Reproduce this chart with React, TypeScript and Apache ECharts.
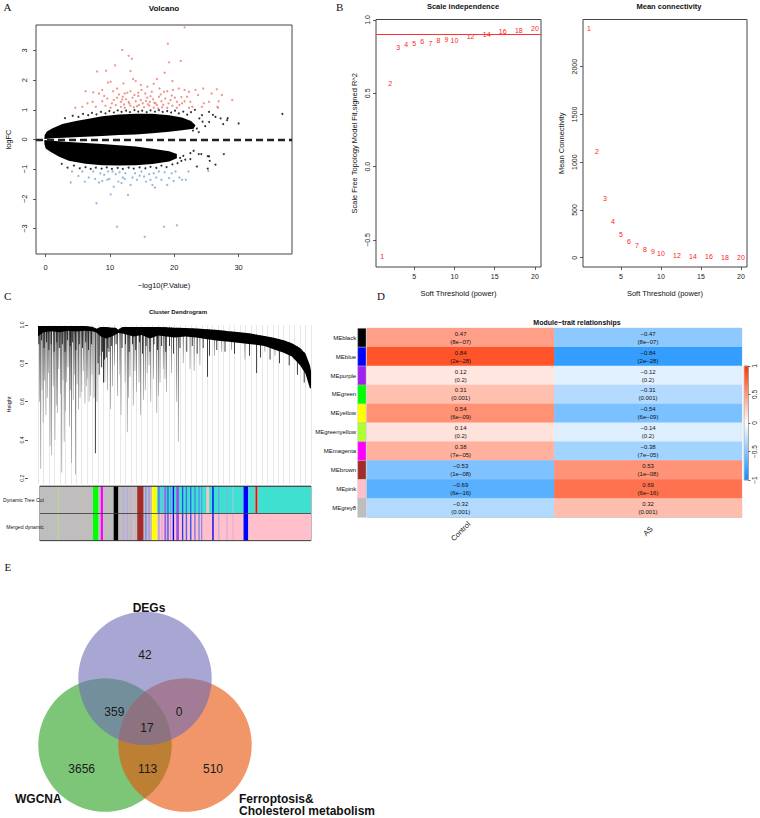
import React, { useEffect, useRef } from 'react';
import * as echarts from 'echarts';

const SANS = '"Liberation Sans", Arial, Helvetica, sans-serif';
const SERIF = '"Liberation Serif", "Times New Roman", serif';
const MINUS = '\u2212';
const signed = (s: string) => s.replace(/-/g, MINUS);

// ---------- A: volcano (x = -log10 P, y = logFC) ----------
const volcanoXTicks = [0, 10, 20, 30];
const volcanoYTicks = [-3, -2, -1, 0, 1, 2, 3];

// outline of the dense block of non-significant genes, logFC > 0 and logFC < 0
const upperCloud: [number, number][] = [
  [-0.2, 0.02], [-0.15, 0.15], [0.2, 0.27], [1.0, 0.37], [2.6, 0.52], [4.7, 0.62], [6.7, 0.7],
  [8.8, 0.78], [11.4, 0.84], [14.0, 0.87], [16.6, 0.87], [19.2, 0.82], [21.2, 0.74], [22.6, 0.62],
  [23.3, 0.48], [23.0, 0.36], [21.2, 0.31], [19.2, 0.26], [16.6, 0.21], [14.0, 0.17], [11.4, 0.15],
  [8.8, 0.12], [6.2, 0.09], [3.6, 0.07], [1.0, 0.04],
];
const lowerCloud: [number, number][] = [
  [-0.2, -0.02], [1.0, -0.04], [3.6, -0.085], [8.8, -0.15], [14.0, -0.24], [16.6, -0.31], [19.2, -0.4],
  [20.4, -0.49], [20.4, -0.63], [19.2, -0.74], [16.6, -0.83], [14.0, -0.87], [11.4, -0.88], [8.8, -0.87],
  [6.2, -0.82], [3.6, -0.72], [2.1, -0.58], [0.8, -0.42], [0.0, -0.3], [-0.2, -0.14],
];
// scattered non-significant genes around the dense block
const volcanoOther: [number, number][] = [
  [3.0, 0.72], [4.2, 0.8], [5.1, 0.76], [5.8, 0.86], [6.6, 0.82], [7.2, 0.9], [7.9, 0.85], [8.6, 0.93],
  [9.3, 0.88], [9.9, 0.96], [10.6, 0.91], [11.2, 0.98], [11.8, 0.93], [12.5, 0.97], [13.1, 0.92], [13.8, 0.99],
  [14.4, 0.94], [15.0, 0.97], [15.7, 0.92], [16.3, 0.98], [17.0, 0.94], [17.6, 0.99], [18.2, 0.93], [18.9, 0.96],
  [19.5, 0.91], [20.1, 0.97], [20.7, 0.88], [21.4, 0.94], [22.0, 0.84], [22.6, 0.92], [23.2, 1.0], [23.5, 0.37],
  [24.3, 0.82], [24.4, 0.6], [25.4, 0.93], [25.4, 0.59], [26.0, 0.83], [26.4, 0.76], [27.2, 0.71], [27.6, 0.52],
  [28.2, 0.65], [28.3, 0.72], [30.0, 0.54], [36.8, 0.86], [23.9, 0.71], [24.8, 0.45], [22.9, 0.3], [23.8, 0.25],
  [2.5, -0.82], [3.4, -0.95], [4.4, -0.88], [5.3, -0.97], [6.2, -0.93], [7.0, -0.99], [7.8, -0.95], [8.7, -0.98],
  [9.5, -0.94], [10.3, -0.99], [11.2, -0.96], [12.0, -0.99], [12.9, -0.95], [13.7, -0.98], [14.6, -0.94],
  [15.5, -0.97], [16.3, -0.92], [17.2, -0.96], [18.0, -0.88], [18.8, -0.93], [19.7, -0.84], [20.5, -0.8],
  [21.1, -0.72], [21.7, -0.68], [22.5, -0.46], [22.5, -0.66], [23.0, -0.38], [23.5, -0.91], [23.8, -0.49],
  [24.2, -0.49], [25.2, -0.56], [25.2, -0.98], [25.4, -0.57], [25.5, -0.72], [26.4, -0.85], [27.7, -0.49],
  [21.4, -0.55], [20.9, -0.62],
];
const volcanoUp: [number, number][] = [
  [21.6, 3.78], [19.0, 3.23], [11.9, 3.02], [12.9, 2.82], [13.4, 2.72], [10.8, 2.5], [19.2, 2.6], [21.0, 2.65],
  [8.0, 2.29], [9.4, 2.32], [13.2, 2.31], [18.5, 2.25], [17.3, 2.04], [13.6, 2.04], [14.0, 1.97], [16.8, 1.88],
  [9.7, 1.92], [10.1, 1.95], [12.1, 1.89], [14.8, 1.84], [15.8, 1.78], [19.7, 1.97], [6.2, 1.63], [7.4, 1.59],
  [8.3, 1.55], [8.8, 1.67], [10.5, 1.63], [11.1, 1.72], [12.3, 1.55], [13.2, 1.63], [14.9, 1.67], [15.5, 1.55],
  [16.5, 1.61], [17.7, 1.72], [18.4, 1.61], [18.9, 1.63], [19.8, 1.67], [20.7, 1.72], [21.6, 1.67], [22.3, 1.61],
  [23.3, 1.67], [24.5, 1.72], [25.8, 1.55], [26.6, 1.69], [27.4, 1.5], [29.0, 1.33], [26.9, 1.29], [22.0, 1.44],
  [25.4, 1.27], [22.5, 1.27], [21.2, 1.22], [24.3, 1.1], [22.8, 1.1], [6.5, 1.22], [7.3, 1.27], [8.8, 1.29],
  [9.1, 1.47], [9.6, 1.38], [10.6, 1.33], [11.1, 1.41], [11.7, 1.27], [12.0, 1.44], [12.5, 1.36], [12.9, 1.27],
  [13.5, 1.41], [14.0, 1.29], [14.4, 1.47], [14.8, 1.33], [15.1, 1.22], [15.8, 1.41], [16.2, 1.27], [16.7, 1.36],
  [17.1, 1.22], [17.6, 1.44], [18.0, 1.29], [18.6, 1.38], [19.1, 1.22], [19.4, 1.33], [20.1, 1.41], [20.4, 1.27],
  [20.8, 1.16], [21.6, 1.29], [4.6, 1.07], [5.7, 1.1], [7.8, 1.1], [9.3, 1.14], [10.1, 1.07], [10.9, 1.16],
  [11.7, 1.1], [12.3, 1.07], [13.2, 1.14], [13.7, 1.09], [14.5, 1.16], [15.3, 1.09], [16.1, 1.14], [16.8, 1.07],
  [17.3, 1.16], [18.1, 1.09], [18.9, 1.07], [19.7, 1.14], [20.4, 1.07], [26.7, 1.1], [24.6, 1.22], [23.7, 1.5],
  [22.3, 1.07], [13.0, 1.21], [14.2, 1.12], [15.6, 1.3], [16.3, 1.46], [17.9, 1.52], [12.7, 1.58], [11.4, 1.52],
  [14.4, 1.58], [19.6, 1.48], [18.3, 1.17], [15.9, 1.19], [10.3, 1.22], [21.1, 1.43], [12.2, 1.18], [16.9, 1.24],
  [13.8, 1.5], [17.5, 1.05], [11.9, 1.35], [26.8, 1.07],
];
const volcanoDown: [number, number][] = [
  [3.9, -1.45], [4.1, -1.08], [5.1, -1.23], [5.7, -1.08], [6.1, -1.42], [6.7, -1.28], [7.4, -1.08], [7.7, -1.33],
  [7.9, -2.15], [8.3, -1.45], [8.5, -1.14], [9.1, -1.19], [9.6, -1.36], [9.7, -1.08], [10.1, -1.85], [10.4, -1.08],
  [10.6, -1.59], [10.9, -1.17], [11.1, -2.94], [11.3, -1.42], [11.5, -1.1], [11.8, -1.47], [12.0, -1.28],
  [12.4, -1.14], [12.8, -1.87], [13.2, -1.53], [13.5, -1.28], [13.9, -1.14], [14.2, -1.36], [14.6, -1.22],
  [14.9, -1.08], [15.3, -1.25], [15.4, -3.28], [15.6, -1.42], [16.1, -1.17], [16.3, -1.36], [16.6, -1.53],
  [16.8, -1.14], [17.0, -1.62], [17.2, -1.28], [17.6, -1.08], [18.0, -1.36], [18.4, -2.94], [18.5, -1.1],
  [18.9, -1.53], [19.2, -1.3], [19.6, -1.14], [19.9, -1.4], [20.2, -1.08], [20.4, -2.89], [20.8, -1.28],
  [21.2, -1.36], [21.8, -1.36], [22.2, -1.08], [25.3, -1.06], [8.8, -1.4], [12.3, -1.33], [9.9, -1.33],
];

// ---------- B: soft-threshold selection ----------
const powers = [1, 2, 3, 4, 5, 6, 7, 8, 9, 10, 12, 14, 16, 18, 20];
const scaleFreeR2 = [-0.61, 0.57, 0.81, 0.83, 0.84, 0.85, 0.84, 0.86, 0.87, 0.86, 0.89, 0.9, 0.92, 0.93, 0.94];
const meanConnectivity = [2398, 1117, 622, 381, 248, 172, 126, 91, 63, 46, 25, 15, 8, 4, 2];
const r2Cutoff = 0.9;
const powerTicks = [5, 10, 15, 20];
const r2Ticks = [-0.5, 0, 0.5, 1];
const kTicks = [0, 500, 1000, 1500, 2000];

// ---------- C: gene dendrogram (leaf order 0-100) ----------
const heightTicks = [0.2, 0.4, 0.6, 0.8, 1.0];
// merged top of the tree: [leaf position, upper height, lower height]
const dendroBand: [number, number, number][] = [
  [0, 0.995, 0.94], [2, 0.995, 0.962], [5, 0.995, 0.968], [8, 0.995, 0.962], [11, 0.995, 0.97],
  [14, 0.995, 0.966], [17, 0.995, 0.97], [20, 0.99, 0.968], [21.5, 0.98, 0.96], [23, 0.99, 0.94],
  [25, 0.99, 0.93], [27, 0.985, 0.94], [28.5, 0.985, 0.95], [29.3, 0.975, 0.958], [31, 0.99, 0.955],
  [35, 0.99, 0.94], [38, 0.99, 0.948], [41, 0.99, 0.93], [44, 0.99, 0.945], [47, 0.988, 0.94],
  [50, 0.986, 0.935], [54, 0.984, 0.94], [58, 0.982, 0.935], [62, 0.978, 0.925], [66, 0.974, 0.918],
  [70, 0.968, 0.912], [74, 0.962, 0.906], [78, 0.955, 0.9], [83, 0.943, 0.89], [86, 0.935, 0.875],
  [90, 0.92, 0.855], [93, 0.905, 0.835], [96, 0.88, 0.79], [98, 0.85, 0.745], [99.6, 0.79, 0.67], [100, 0.76, 0.67],
];
// branches hanging below the merged top: [leaf position, lowest height, 0 = dark / 1 = grey]
const dendroBranches: [number, number, number][] = [
  [1.0, 0.25, 1], [1.9, 0.49, 1], [2.9, 0.53, 1], [4.4, 0.37, 1], [5.0, 0.32, 1], [6.2, 0.4, 1], [7.1, 0.54, 1],
  [8.7, 0.23, 1], [9.6, 0.39, 1], [10.5, 0.7, 1], [11.5, 0.47, 1], [12.3, 0.28, 1], [12.9, 0.61, 1], [13.7, 0.22, 1],
  [14.8, 0.56, 1], [16.0, 0.65, 1], [17.2, 0.59, 1], [18.2, 0.72, 1], [19.3, 0.63, 1], [20.5, 0.62, 1],
  [21.0, 0.33, 0], [21.6, 0.6, 1], [22.7, 0.84, 1], [23.9, 0.77, 1], [25.4, 0.66, 1], [26.6, 0.56, 1],
  [28.0, 0.79, 1], [29.1, 0.63, 1], [30.4, 0.53, 1], [31.9, 0.7, 1], [32.7, 0.44, 1], [33.7, 0.73, 1],
  [34.9, 0.58, 1], [36.1, 0.65, 1], [37.6, 0.53, 1], [38.6, 0.61, 1], [40.0, 0.75, 1], [41.3, 0.6, 1],
  [42.3, 0.72, 1], [43.5, 0.54, 1], [44.7, 0.7, 1], [45.9, 0.77, 1], [47.1, 0.65, 1], [48.9, 0.75, 1],
  [50.8, 0.6, 1], [51.4, 0.39, 1], [53.2, 0.8, 1], [55.7, 0.77, 1], [57.2, 0.76, 1], [59.3, 0.79, 1],
  [62.1, 0.73, 0], [64.6, 0.84, 1], [67.3, 0.86, 1], [70.9, 0.87, 1], [75.8, 0.82, 1], [80.1, 0.75, 0],
  [83.1, 0.86, 1], [86.8, 0.84, 1], [90.5, 0.87, 1], [93.5, 0.82, 1], [96.6, 0.79, 1],
  [0.5, 0.6, 1], [1.5, 0.66, 1], [2.4, 0.71, 1], [3.4, 0.62, 1], [3.9, 0.75, 1], [5.6, 0.68, 1], [6.7, 0.58, 1],
  [7.6, 0.77, 1], [8.2, 0.64, 1], [9.2, 0.71, 1], [10.0, 0.55, 1], [11.0, 0.78, 1], [11.9, 0.66, 1],
  [13.3, 0.74, 1], [14.3, 0.69, 1], [15.4, 0.62, 1], [16.6, 0.76, 1], [17.7, 0.68, 1], [18.7, 0.6, 1],
  [19.8, 0.74, 1], [24.5, 0.7, 1], [27.3, 0.68, 1], [30.0, 0.74, 1], [33.1, 0.62, 1], [35.5, 0.76, 1],
  [37.0, 0.7, 1], [39.3, 0.66, 1], [40.7, 0.79, 1], [44.1, 0.63, 1], [46.5, 0.72, 1],
  [0.3, 0.9, 0], [1.3, 0.92, 0], [2.2, 0.88, 0], [3.1, 0.91, 0], [4.0, 0.87, 0], [4.8, 0.9, 0], [5.9, 0.86, 0],
  [6.9, 0.91, 0], [7.8, 0.88, 0], [8.9, 0.9, 0], [9.9, 0.86, 0], [10.8, 0.92, 0], [11.8, 0.89, 0], [12.7, 0.91, 0],
  [13.9, 0.87, 0], [15.1, 0.9, 0], [16.3, 0.88, 0], [17.5, 0.91, 0], [18.5, 0.87, 0], [19.6, 0.9, 0],
  [22.0, 0.8, 0], [22.4, 0.74, 0], [23.2, 0.78, 0], [24.0, 0.7, 0], [25.0, 0.83, 0], [26.0, 0.86, 0],
  [23.6, 0.86, 0], [24.4, 0.82, 0], [25.6, 0.88, 0],
  [27.0, 0.89, 0], [28.6, 0.9, 0], [30.8, 0.88, 0], [32.0, 0.9, 0], [33.4, 0.86, 0], [34.6, 0.9, 0],
  [35.8, 0.87, 0], [37.2, 0.91, 0], [38.3, 0.85, 0], [39.6, 0.89, 0], [41.0, 0.86, 0], [42.5, 0.9, 0],
  [43.8, 0.87, 0], [45.3, 0.89, 0], [46.8, 0.86, 0], [48.2, 0.89, 0], [49.6, 0.85, 0], [52.0, 0.88, 0],
  [54.5, 0.86, 0], [56.5, 0.89, 0], [58.3, 0.85, 0], [60.5, 0.88, 0], [62.8, 0.84, 0], [65.5, 0.87, 0],
  [68.5, 0.86, 0], [72.0, 0.85, 0], [77.5, 0.84, 0], [81.5, 0.83, 0], [85.0, 0.82, 0], [88.5, 0.8, 0],
  [92.0, 0.79, 0], [95.0, 0.74, 0], [97.5, 0.7, 0],
];
const colourRows = ['Merged dynamic', 'Dynamic Tree Cut'];
const R_COL: Record<string, string> = {
  grey: '#BEBEBE', green: '#00FF00', magenta: '#FF00FF', black: '#000000', brown: '#A52A2A',
  yellow: '#FFFF00', turquoise: '#40E0D0', blue: '#0000FF', red: '#FF0000', pink: '#FFC0CB',
  purple: '#A020F0', greenyellow: '#ADFF2F',
};
const dynamicTreeCut: [number, number, string][] = [
  [0, 19.6, 'grey'], [19.6, 21.7, 'green'], [21.7, 22.4, 'grey'], [22.4, 23.3, 'magenta'], [23.3, 27.2, 'grey'],
  [27.2, 29.0, 'black'], [29.0, 35.9, 'grey'], [35.9, 38.3, 'brown'], [38.3, 41.4, 'grey'], [41.4, 43.2, 'yellow'],
  [43.2, 75.1, 'turquoise'], [75.1, 76.9, 'blue'], [76.9, 79.5, 'turquoise'], [79.5, 80.3, 'red'], [80.3, 100, 'turquoise'],
  [6.6, 7.0, '#B8DC8C'], [9.6, 10.0, '#CDB8B8'], [12.2, 12.6, '#CDB8B8'], [14.8, 15.2, '#C8BEB0'], [17.0, 17.4, '#CDB8B8'],
  [30.6, 31.2, '#A9B4E6'], [32.0, 32.5, '#B8A8E0'], [33.4, 33.8, '#C7B0D8'], [34.4, 34.8, '#D8B8C8'],
  [38.8, 39.4, '#7FA0F0'], [40.0, 40.6, '#B090E0'], [43.6, 44.2, '#5080F0'], [44.8, 45.3, '#7FB0F0'],
  [45.9, 46.6, '#9A60E8'], [47.0, 47.5, '#3060F0'], [48.0, 48.4, '#70A0F0'], [49.0, 49.5, 'blue'],
  [50.3, 51.3, '#9B50E8'], [52.4, 52.9, '#2050F0'], [53.8, 54.3, '#4070F0'], [55.4, 55.9, '#3060F0'],
  [57.0, 57.4, '#4070F0'], [58.5, 58.9, '#5080F0'], [59.5, 59.9, '#6090F0'], [61.4, 62.4, 'pink'],
  [63.6, 64.1, 'blue'], [65.8, 66.2, '#6AA0F0'], [68.8, 69.2, '#80B0F0'], [71.0, 71.4, '#9AC8F0'],
];
const mergedDynamic: [number, number, string][] = [
  [0, 19.6, 'grey'], [19.6, 21.7, 'green'], [21.7, 22.4, 'grey'], [22.4, 23.3, 'magenta'], [23.3, 27.2, 'grey'],
  [27.2, 29.0, 'black'], [29.0, 35.9, 'grey'], [35.9, 38.3, 'brown'], [38.3, 41.4, 'grey'], [41.4, 43.2, 'yellow'],
  [43.2, 75.1, 'pink'], [75.1, 76.9, 'blue'], [76.9, 100, 'pink'],
  [6.6, 7.0, '#B8DC8C'], [9.6, 10.0, '#CDB8B8'], [12.2, 12.6, '#CDB8B8'], [14.8, 15.2, '#C8BEB0'], [17.0, 17.4, '#CDB8B8'],
  [30.6, 31.2, '#C0A8D8'], [32.0, 32.5, '#B8A8E0'], [33.4, 33.8, '#D0A8D0'], [34.4, 34.8, '#E0B8C8'],
  [38.8, 39.4, '#8090F0'], [40.0, 40.6, '#C090E0'], [43.6, 44.2, '#B0A0E8'], [44.8, 45.3, '#D8A8E0'],
  [45.9, 46.6, '#9A60E8'], [47.0, 47.5, '#4050F0'], [48.0, 48.4, '#C8A0E8'], [49.0, 49.5, 'blue'],
  [50.3, 51.3, '#9B50E8'], [52.4, 52.9, '#2040F0'], [53.8, 54.3, '#5060F0'], [55.4, 55.9, '#3050F0'],
  [57.0, 57.4, '#5060F0'], [58.5, 58.9, '#6070F0'], [59.5, 59.9, '#7080F0'], [63.6, 64.1, 'blue'],
  [65.8, 66.2, '#C0A0E8'], [68.8, 69.2, '#D0A8E8'], [71.0, 71.4, '#E0B0E0'],
];

// ---------- D: module-trait relationships ----------
const modules = ['MEblack', 'MEblue', 'MEpurple', 'MEgreen', 'MEyellow', 'MEgreenyellow', 'MEmagenta', 'MEbrown', 'MEpink', 'MEgrey8'];
const moduleColours = ['black', 'blue', 'purple', 'green', 'yellow', 'greenyellow', 'magenta', 'brown', 'pink', 'grey'];
const traits = ['Control', 'AS'];
const corControl = [0.47, 0.84, 0.12, 0.31, 0.54, 0.14, 0.38, -0.53, -0.69, -0.32];
const corAS = [-0.47, -0.84, -0.12, -0.31, -0.54, -0.14, -0.38, 0.53, 0.69, 0.32];
const pValues = ['8e-07', '2e-28', '0.2', '0.001', '6e-09', '0.2', '7e-05', '1e-08', '6e-16', '0.001'];
const legendTicks = [-1, -0.5, 0, 0.5, 1];

// ---------- E: Venn ----------
const vennSets = ['WGCNA', 'Ferroptosis&', 'Cholesterol metabolism', 'DEGs'];
const vennFills = ['rgba(38,160,30,0.6)', 'rgba(230,80,5,0.6)', 'rgba(110,107,180,0.6)'];
// DEGs only, DEGs∩WGCNA, DEGs∩Ferro, all three, WGCNA only, WGCNA∩Ferro, Ferro only
const vennCounts = [42, 359, 0, 17, 3656, 113, 510];
// layout in circle-radius units: WGCNA, Ferroptosis & cholesterol, DEGs
const vennCentres = [[-0.6, 0], [0.6, 0], [0, 1]];
const vennCountPos = [[0, 1.35], [-0.46, 0.49], [0.51, 0.49], [0.03, 0.25], [-0.95, -0.36], [0.04, -0.36], [1.02, -0.36]];

function bandAt(pos: number, k: number) {
  for (let i = 1; i < dendroBand.length; i++) {
    const a = dendroBand[i - 1];
    const b = dendroBand[i];
    if (pos <= b[0]) {
      const t = (pos - a[0]) / (b[0] - a[0] || 1);
      return a[k] + t * (b[k] - a[k]);
    }
  }
  return dendroBand[dendroBand.length - 1][k];
}

const box = (left: number, top: number, width: number, height: number, show = true, borderColor = '#444') => ({
  left, top, width, height, show, borderColor, borderWidth: 1, backgroundColor: 'transparent',
});

const rAxis = (o: any) => ({
  gridIndex: o.grid, type: 'value', min: o.min, max: o.max, position: o.position, offset: o.offset || 0,
  axisLine: { show: false, onZero: false },
  splitLine: { show: false },
  axisTick: { show: true, customValues: o.ticks, length: o.tick ?? 3, lineStyle: { color: '#333', width: 0.8 } },
  axisLabel: {
    show: true, customValues: o.ticks, margin: o.margin, rotate: o.rotate ?? 0, fontSize: o.labelSize,
    fontFamily: SANS, color: '#222', formatter: o.fmt ?? ((v: number) => signed(String(v))),
  },
  name: o.name, nameLocation: 'middle', nameGap: o.nameGap,
  nameTextStyle: { fontSize: o.nameSize, fontFamily: SANS, color: '#111' },
});
const hiddenAxis = (grid: number, min: number, max: number) => ({
  gridIndex: grid, type: 'value', min, max, show: false, axisLine: { onZero: false },
});

const textEl = (text: string, x: number, y: number, font: string, align = 'center') => ({
  type: 'text', x, y, silent: true,
  style: { text, font, fill: '#111', align, verticalAlign: 'middle' },
});

// red power numbers drawn at (power, value)
const powerLabels = (axisIndex: number, values: number[]) => ({
  type: 'custom', xAxisIndex: axisIndex, yAxisIndex: axisIndex, silent: true,
  data: powers.map((p, i) => [p, values[i]]),
  renderItem: (params: any, api: any) => {
    const c = api.coord([api.value(0), api.value(1)]);
    return {
      type: 'text', x: c[0], y: c[1],
      style: { text: String(powers[params.dataIndex]), fill: '#FF1A1A', font: `7px ${SANS}`, align: 'center', verticalAlign: 'middle' },
    };
  },
});

function buildOption() {
  const colourSegs = [
    ...mergedDynamic.map((s) => [s[0], s[1], 0, s[2]]),
    ...dynamicTreeCut.map((s) => [s[0], s[1], 1, s[2]]),
  ];
  const heatData: number[][] = [];
  modules.forEach((_, i) => {
    heatData.push([0, i, corControl[i]]);
    heatData.push([1, i, corAS[i]]);
  });

  return {
    animation: false,
    textStyle: { fontFamily: SANS },
    grid: [
      box(36, 25, 256, 229),
      box(376, 19.5, 165, 247.5),
      box(583, 19.5, 164, 247.5),
      box(38, 325, 273, 159, false),
      box(38, 486, 273, 54.7, true, '#777'),
      box(357.7, 328.3, 8.3, 189, false),
      box(367, 328.3, 374.7, 189, true, '#BBBBBB'),
      box(744.3, 366, 4, 114, true, '#888'),
      box(0, 560, 290, 258, false),
    ],
    xAxis: [
      rAxis({ grid: 0, min: -1.5, max: 38.3, ticks: volcanoXTicks, margin: 9, labelSize: 7.5, name: signed('-log10(P.Value)'), nameGap: 27, nameSize: 7.5 }),
      rAxis({ grid: 1, min: 0.24, max: 20.76, ticks: powerTicks, margin: 6, labelSize: 7, name: 'Soft Threshold (power)', nameGap: 22, nameSize: 7.5 }),
      rAxis({ grid: 2, min: 0.24, max: 20.76, ticks: powerTicks, margin: 6, labelSize: 7, name: 'Soft Threshold (power)', nameGap: 22, nameSize: 7.5 }),
      {
        gridIndex: 3, type: 'value', min: 0, max: 100, interval: 2,
        axisLine: { show: false, onZero: false }, axisTick: { show: false }, axisLabel: { show: false },
        splitLine: { show: true, lineStyle: { color: '#DCDCDC', width: 0.7 } },
      },
      hiddenAxis(4, 0, 100),
      hiddenAxis(5, 0, 1),
      {
        gridIndex: 6, type: 'category', data: traits,
        axisLine: { show: false }, axisTick: { show: false }, splitLine: { show: false },
        axisLabel: { rotate: 45, align: 'center', verticalAlign: 'middle', margin: 14, fontSize: 7.5, color: '#222', fontFamily: SANS },
      },
      hiddenAxis(7, 0, 1),
      hiddenAxis(8, -2.174, 2.174),
    ],
    yAxis: [
      rAxis({ grid: 0, min: -3.86, max: 3.86, ticks: volcanoYTicks, rotate: 90, margin: 8, labelSize: 7.5, name: 'logFC', nameGap: 24, nameSize: 7.5 }),
      rAxis({ grid: 1, min: -0.684, max: 1.003, ticks: r2Ticks, rotate: 90, margin: 5, labelSize: 7, name: 'Scale Free Topology Model Fit,signed R^2', nameGap: 18, nameSize: 7.5, fmt: (v: number) => signed(v.toFixed(1)) }),
      rAxis({ grid: 2, min: -97, max: 2494, ticks: kTicks, rotate: 90, margin: 5, labelSize: 7, name: 'Mean Connectivity', nameGap: 18, nameSize: 7.5 }),
      rAxis({ grid: 3, min: 0.17, max: 1.0, ticks: heightTicks, rotate: 90, margin: 4, labelSize: 5, offset: 10, name: 'Height', nameGap: 16, nameSize: 5.5, fmt: (v: number) => v.toFixed(1) }),
      {
        gridIndex: 4, type: 'category', data: colourRows, z: 5,
        axisLine: { show: false }, axisTick: { show: false },
        axisLabel: { margin: -4, fontSize: 5.1, color: '#111', fontFamily: SANS },
        splitLine: { show: true, lineStyle: { color: '#333', width: 0.8 } },
      },
      {
        gridIndex: 5, type: 'category', data: modules, inverse: true,
        axisLine: { show: false }, axisTick: { show: false }, splitLine: { show: false },
        axisLabel: { margin: 1.5, fontSize: 6, color: '#111', fontFamily: SANS },
      },
      { gridIndex: 6, type: 'category', data: modules, inverse: true, show: false },
      rAxis({ grid: 7, min: -1, max: 1, ticks: legendTicks, position: 'right', rotate: 90, margin: 3, labelSize: 6.5, tick: 2 }),
      hiddenAxis(8, -1.094, 2.774),
    ],
    visualMap: [{
      type: 'continuous', min: -1, max: 1, seriesIndex: 10, calculable: false, show: true,
      orient: 'vertical', left: 744.3, top: 366, itemWidth: 4, itemHeight: 114, padding: 0,
      inRange: { color: ['#0D8CFF', '#FFFFFF', '#FF3300'] },
    }],
    series: [
      // 0: dense block of genes
      {
        type: 'custom', xAxisIndex: 0, yAxisIndex: 0, silent: true, clip: true,
        data: [[0, 0], [0, 0]],
        renderItem: (params: any, api: any) => {
          const outline = params.dataIndex === 0 ? upperCloud : lowerCloud;
          return { type: 'polygon', shape: { points: outline.map((p) => api.coord(p)) }, style: { fill: '#000' } };
        },
      },
      // 1-3: individual genes
      { type: 'scatter', xAxisIndex: 0, yAxisIndex: 0, data: volcanoOther, symbolSize: 2, itemStyle: { color: '#000' }, silent: true },
      { type: 'scatter', xAxisIndex: 0, yAxisIndex: 0, data: volcanoUp, symbolSize: 2.3, itemStyle: { color: '#EF7C70' }, silent: true },
      {
        type: 'scatter', xAxisIndex: 0, yAxisIndex: 0, data: volcanoDown, symbolSize: 2.3, itemStyle: { color: '#7BA7D2' }, silent: true,
        markLine: {
          silent: true, symbol: ['none', 'none'], label: { show: false },
          lineStyle: { color: '#222', width: 2.4, type: [7, 4] }, data: [{ yAxis: 0 }],
        },
      },
      // 4: scale-free fit, with the R^2 cut-off
      {
        ...powerLabels(1, scaleFreeR2),
        markLine: {
          silent: true, symbol: ['none', 'none'], label: { show: false },
          lineStyle: { color: '#FF3030', width: 1, type: 'solid' }, data: [{ yAxis: r2Cutoff }],
        },
      },
      // 5: mean connectivity
      powerLabels(2, meanConnectivity),
      // 6: dendrogram branches
      {
        type: 'custom', xAxisIndex: 3, yAxisIndex: 3, silent: true, clip: true,
        data: dendroBranches,
        renderItem: (params: any, api: any) => {
          const pos = api.value(0);
          const bottom = api.value(1);
          const kind = api.value(2);
          const p0 = api.coord([pos, bandAt(pos, 1)]);
          const p1 = api.coord([pos, bottom]);
          const fill = kind === 0
            ? '#111'
            : new echarts.graphic.LinearGradient(0, 0, 0, 1, [
              { offset: 0, color: '#111' }, { offset: 0.3, color: '#505050' }, { offset: 1, color: '#ababab' },
            ]);
          return { type: 'rect', shape: { x: p0[0] - 0.4, y: p0[1], width: 0.8, height: p1[1] - p0[1] }, style: { fill } };
        },
      },
      // 7: dendrogram merged top
      {
        type: 'custom', xAxisIndex: 3, yAxisIndex: 3, silent: true, clip: true,
        data: [[0, 0]],
        renderItem: (params: any, api: any) => {
          const pts = [
            ...dendroBand.map((b) => api.coord([b[0], b[1]])),
            ...dendroBand.slice().reverse().map((b) => api.coord([b[0], b[2]])),
          ];
          return { type: 'polygon', shape: { points: pts }, style: { fill: '#000' } };
        },
      },
      // 8: module colour rows
      {
        type: 'custom', xAxisIndex: 4, yAxisIndex: 4, silent: true,
        data: colourSegs.map((s) => [s[0], s[1], s[2]]),
        renderItem: (params: any, api: any) => {
          const s = colourSegs[params.dataIndex];
          const a = api.coord([s[0], s[2]]);
          const b = api.coord([s[1], s[2]]);
          const h = api.size([0, 1])[1];
          const c = String(s[3]);
          return {
            type: 'rect',
            shape: { x: a[0], y: a[1] - h / 2, width: Math.max(b[0] - a[0], 0.6), height: h },
            style: { fill: R_COL[c] || c },
          };
        },
      },
      // 9: module colour column
      {
        type: 'custom', xAxisIndex: 5, yAxisIndex: 5, silent: true,
        data: moduleColours.map((_, i) => [0, i]),
        renderItem: (params: any, api: any) => {
          const i = params.dataIndex;
          const a = api.coord([0, i]);
          const b = api.coord([1, i]);
          const h = api.size([0, 1])[1];
          return {
            type: 'rect', shape: { x: a[0], y: a[1] - h / 2, width: b[0] - a[0], height: h },
            style: { fill: R_COL[moduleColours[i]], stroke: '#BBBBBB', lineWidth: 0.4 },
          };
        },
      },
      // 10: correlation heatmap
      {
        type: 'heatmap', xAxisIndex: 6, yAxisIndex: 6, data: heatData, silent: true,
        label: {
          show: true, fontSize: 6, lineHeight: 8, color: '#111', fontFamily: SANS,
          formatter: (p: any) => `${signed(p.value[2].toFixed(2))}\n(${signed(pValues[p.value[1]])})`,
        },
      },
      // 11: Venn sets
      {
        type: 'custom', xAxisIndex: 8, yAxisIndex: 8, silent: true,
        data: vennCentres,
        renderItem: (params: any, api: any) => {
          const c = api.coord([api.value(0), api.value(1)]);
          const r = api.size([1, 0])[0];
          return { type: 'circle', shape: { cx: c[0], cy: c[1], r }, style: { fill: vennFills[params.dataIndex] } };
        },
      },
      // 12: Venn counts
      {
        type: 'custom', xAxisIndex: 8, yAxisIndex: 8, silent: true,
        data: vennCountPos,
        renderItem: (params: any, api: any) => {
          const c = api.coord([api.value(0), api.value(1)]);
          return {
            type: 'text', x: c[0], y: c[1],
            style: { text: String(vennCounts[params.dataIndex]), fill: '#1a1a1a', font: `12px ${SANS}`, align: 'center', verticalAlign: 'middle' },
          };
        },
      },
    ],
    graphic: [
      textEl('A', 3.5, 7, `11px ${SERIF}`, 'left'),
      textEl('B', 336, 7, `11px ${SERIF}`, 'left'),
      textEl('C', 4, 295.5, `11px ${SERIF}`, 'left'),
      textEl('D', 377, 296, `11px ${SERIF}`, 'left'),
      textEl('E', 4.5, 566.7, `11px ${SERIF}`, 'left'),
      textEl('Volcano', 164, 8, `bold 8px ${SANS}`),
      textEl('Scale independence', 463, 6.5, `bold 7.5px ${SANS}`),
      textEl('Mean connectivity', 669, 6.5, `bold 7.5px ${SANS}`),
      textEl('Cluster Dendrogram', 178, 312, `bold 6px ${SANS}`),
      textEl(signed('Module-trait relationships'), 577, 322, `bold 7px ${SANS}`),
      textEl(vennSets[3], 149, 607.7, `bold 12px ${SANS}`),
      textEl(vennSets[0], 15, 799, `bold 12px ${SANS}`, 'left'),
      textEl(vennSets[1], 239, 798.5, `bold 12px ${SANS}`, 'left'),
      textEl(vennSets[2], 239, 811.3, `bold 12px ${SANS}`, 'left'),
    ],
  };
}

export default function App() {
  const ref = useRef<HTMLDivElement>(null);
  useEffect(() => {
    if (!ref.current) return;
    const chart = echarts.init(ref.current, null, { renderer: 'svg' });
    chart.setOption(buildOption() as any);
    return () => chart.dispose();
  }, []);
  return (
    <div
      ref={ref}
      style={{ position: 'absolute', left: 0, top: 0, width: 760, height: 818, background: '#fff' }}
    />
  );
}
